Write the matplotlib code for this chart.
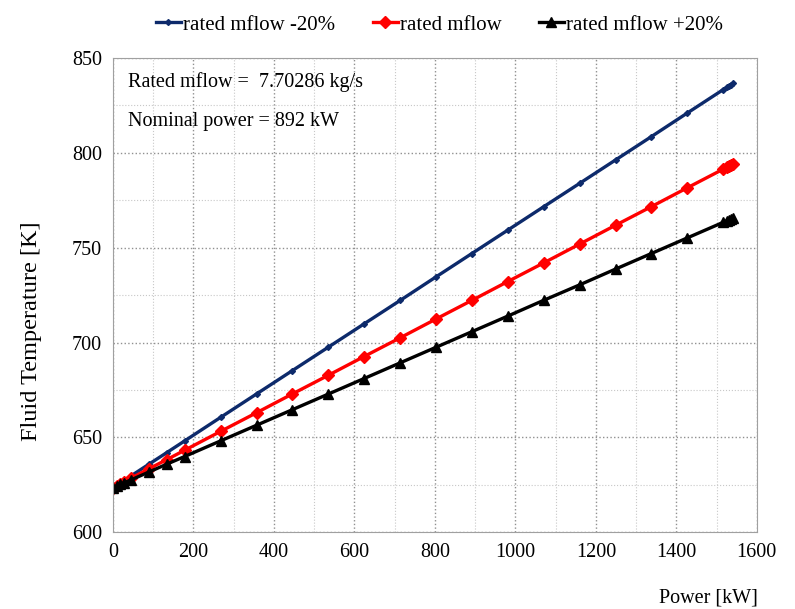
import numpy as np
import matplotlib
matplotlib.use('Agg')
import matplotlib.pyplot as plt
from matplotlib.ticker import MultipleLocator

plt.rcParams['font.family'] = ['Liberation Serif', 'DejaVu Serif']

# power points [kW]
power = [0, 9, 18, 27, 45, 89, 134, 178, 268, 357, 446, 535, 624, 714, 803,
         892, 981, 1070, 1160, 1249, 1338, 1427, 1516, 1525, 1530, 1535, 1540]

# fluid temperature [K]
t_minus20 = [623.5, 624.7, 626.0, 627.2, 629.7, 635.8, 642.0, 648.1, 660.6, 672.9,
             685.2, 697.5, 709.8, 722.2, 734.6, 746.9, 759.2, 771.5, 783.9, 796.2,
             808.5, 820.9, 833.2, 834.4, 835.1, 835.8, 836.5]
t_rated = [623.5, 624.5, 625.5, 626.5, 628.5, 633.4, 638.3, 643.2, 653.2, 663.0,
           672.9, 682.7, 692.6, 702.5, 712.4, 722.2, 732.1, 741.9, 751.9, 761.8,
           771.6, 781.5, 791.3, 792.3, 792.9, 793.4, 794.0]
t_plus20 = [623.5, 624.3, 625.2, 626.0, 627.6, 631.7, 635.9, 639.9, 648.2, 656.4,
            664.6, 672.8, 681.0, 689.3, 697.5, 705.7, 713.9, 722.2, 730.4, 738.7,
            746.9, 755.1, 763.3, 764.1, 764.6, 765.0, 765.5]

fig = plt.figure(figsize=(7.95, 6.09), dpi=100)
ax = fig.add_axes([0.142, 0.126, 0.810, 0.779])

ax.plot(power, t_minus20, color='#0d2a6b', lw=2.4, marker='D', ms=3, label='rated mflow -20%')
ax.plot(power, t_rated, color='#ff0000', lw=2.4, marker='D', ms=6, label='rated mflow')
ax.plot(power, t_plus20, color='black', lw=2.4, marker='^', ms=7, label='rated mflow +20%')

ax.set_xlim(0, 1600)
ax.set_ylim(600, 850)
ax.xaxis.set_major_locator(MultipleLocator(200))
ax.xaxis.set_minor_locator(MultipleLocator(100))
ax.yaxis.set_major_locator(MultipleLocator(50))
ax.yaxis.set_minor_locator(MultipleLocator(25))
ax.grid(which='major', color='#909090', ls=':', lw=1.0)
ax.grid(which='minor', color='#c8c8c8', ls=':', lw=0.8)
ax.tick_params(which='both', length=0, labelsize=14.5, pad=8)
for s in ax.spines.values():
    s.set_color('#a0a0a0')

ax.set_ylabel('Fluid Temperature [K]', fontsize=17.5)
ax.yaxis.set_label_coords(-0.110, 0.424)
fig.text(0.953, 0.003, 'Power [kW]', fontsize=14.5, ha='right', va='bottom')

ax.text(0.023, 0.949, 'Rated mflow =  7.70286 kg/s', transform=ax.transAxes, fontsize=14.5, va='center')
ax.text(0.023, 0.865, 'Nominal power = 892 kW', transform=ax.transAxes, fontsize=14.5, va='center')

ax.legend(loc='upper center', bbox_to_anchor=(0.507, 1.13), ncol=3, frameon=False,
          fontsize=15, handlelength=1.2, handletextpad=0.1, columnspacing=1.8)

fig.savefig('out.png', dpi=100)
